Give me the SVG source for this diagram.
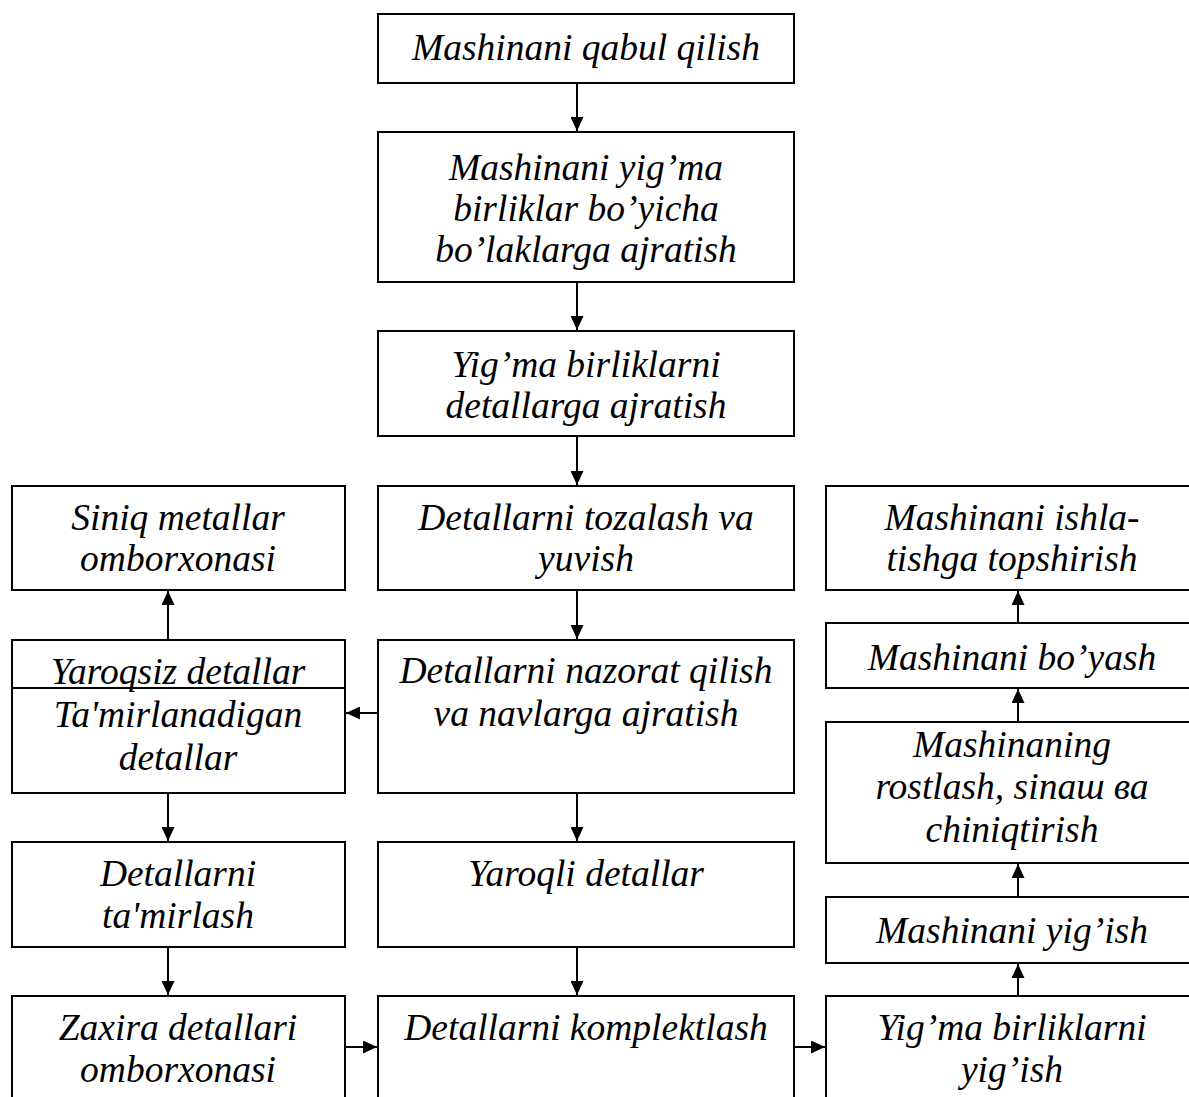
<svg xmlns="http://www.w3.org/2000/svg" width="1189" height="1097" viewBox="0 0 1189 1097">
<style>
.box{fill:#fff;stroke:#000;stroke-width:2}
.t{font-family:'Liberation Serif','Times New Roman','DejaVu Serif',serif;font-style:italic;font-size:37.5px;fill:#000;text-anchor:middle}
.c{stroke:#000;stroke-width:2;fill:none;marker-end:url(#ah)}
</style>
<defs>
<marker id="ah" markerUnits="userSpaceOnUse" markerWidth="15" markerHeight="13" refX="14" refY="6.5" orient="auto"><path d="M0,0 L14,6.5 L0,13 z" fill="#000"/></marker>
</defs>
<rect width="1189" height="1097" fill="#fff"/>
<g id="n1"><rect class="box" x="378" y="14" width="416" height="69"/><text class="t" x="586" y="60">Mashinani qabul qilish</text></g>
<g id="n2"><rect class="box" x="378" y="132" width="416" height="150"/><text class="t" x="586" y="180">Mashinani yig’ma</text><text class="t" x="586" y="221">birliklar bo’yicha</text><text class="t" x="586" y="262">bo’laklarga ajratish</text></g>
<g id="n3"><rect class="box" x="378" y="331" width="416" height="105"/><text class="t" x="586" y="377">Yig’ma birliklarni</text><text class="t" x="586" y="418">detallarga ajratish</text></g>
<g id="n4"><rect class="box" x="378" y="486" width="416" height="104"/><text class="t" x="586" y="530">Detallarni tozalash va</text><text class="t" x="586" y="571">yuvish</text></g>
<g id="n5"><rect class="box" x="12" y="486" width="333" height="104"/><text class="t" x="178" y="530">Siniq metallar</text><text class="t" x="178" y="571">omborxonasi</text></g>
<g id="n6"><rect class="box" x="826" y="486" width="372" height="104"/><text class="t" x="1012" y="530">Mashinani ishla-</text><text class="t" x="1012" y="571">tishga topshirish</text></g>
<g id="n7"><rect class="box" x="12" y="640" width="333" height="153"/><line x1="12" y1="688" x2="345" y2="688" stroke="#000" stroke-width="2"/><text class="t" x="178" y="684">Yaroqsiz detallar</text><text class="t" x="178" y="727">Ta'mirlanadigan</text><text class="t" x="178" y="770">detallar</text></g>
<g id="n8"><rect class="box" x="378" y="640" width="416" height="153"/><text class="t" x="586" y="683">Detallarni nazorat qilish</text><text class="t" x="586" y="726">va navlarga ajratish</text></g>
<g id="n9"><rect class="box" x="826" y="623" width="372" height="65"/><text class="t" x="1012" y="670">Mashinani bo’yash</text></g>
<g id="n10"><rect class="box" x="826" y="722" width="372" height="141"/><text class="t" x="1012" y="757">Mashinaning</text><text class="t" x="1012" y="799">rostlash, sinaш ва</text><text class="t" x="1012" y="842">chiniqtirish</text></g>
<g id="n11"><rect class="box" x="12" y="842" width="333" height="105"/><text class="t" x="178" y="886">Detallarni</text><text class="t" x="178" y="928">ta'mirlash</text></g>
<g id="n12"><rect class="box" x="378" y="842" width="416" height="105"/><text class="t" x="586" y="886">Yaroqli detallar</text></g>
<g id="n13"><rect class="box" x="826" y="897" width="372" height="66"/><text class="t" x="1012" y="943">Mashinani yig’ish</text></g>
<g id="n14"><rect class="box" x="12" y="996" width="333" height="120"/><text class="t" x="178" y="1040">Zaxira detallari</text><text class="t" x="178" y="1082">omborxonasi</text></g>
<g id="n15"><rect class="box" x="378" y="996" width="416" height="120"/><text class="t" x="586" y="1040">Detallarni komplektlash</text></g>
<g id="n16"><rect class="box" x="826" y="996" width="372" height="120"/><text class="t" x="1012" y="1040">Yig’ma birliklarni</text><text class="t" x="1012" y="1082">yig’ish</text></g>
<g id="connectors">
<line class="c" x1="577" y1="83" x2="577" y2="131"/>
<line class="c" x1="577" y1="282" x2="577" y2="330"/>
<line class="c" x1="577" y1="436" x2="577" y2="485"/>
<line class="c" x1="577" y1="590" x2="577" y2="639"/>
<line class="c" x1="577" y1="793" x2="577" y2="841"/>
<line class="c" x1="577" y1="947" x2="577" y2="995"/>
<line class="c" x1="168" y1="793" x2="168" y2="841"/>
<line class="c" x1="168" y1="947" x2="168" y2="995"/>
<line class="c" x1="168" y1="640" x2="168" y2="591"/>
<line class="c" x1="378" y1="713" x2="346" y2="713"/>
<line class="c" x1="345" y1="1047" x2="377" y2="1047"/>
<line class="c" x1="794" y1="1047" x2="825" y2="1047"/>
<line class="c" x1="1018" y1="996" x2="1018" y2="964"/>
<line class="c" x1="1018" y1="897" x2="1018" y2="864"/>
<line class="c" x1="1018" y1="722" x2="1018" y2="689"/>
<line class="c" x1="1018" y1="623" x2="1018" y2="591"/>
</g>
</svg>
